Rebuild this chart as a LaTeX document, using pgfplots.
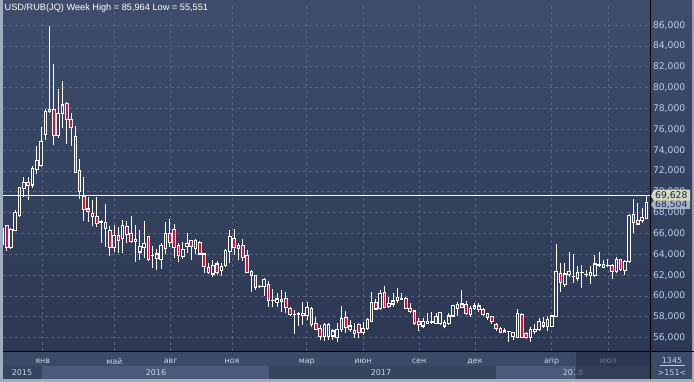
\documentclass[border=0pt]{standalone}
\usepackage{pgfplots}
\pgfplotsset{compat=1.18}
\usepackage{pgfplotstable}
\usepackage{fontspec}
\setmainfont{DejaVu Sans}
\newfontfamily\lib{Liberation Sans}

\definecolor{bgtop}{RGB}{63,77,107}
\definecolor{bgbot}{RGB}{44,56,83}
\definecolor{gridc}{RGB}{86,100,130}
\definecolor{candred}{RGB}{222,16,58}
\definecolor{hollow}{RGB}{50,62,90}
\definecolor{ticktxt}{RGB}{188,208,238}
\definecolor{monthtxt}{RGB}{200,212,232}
\definecolor{framec}{RGB}{160,172,194}
\definecolor{striprow}{RGB}{60,74,103}
\definecolor{bandlight}{RGB}{76,90,121}
\definecolor{banddark}{RGB}{55,68,96}
\definecolor{boxdark}{RGB}{30,40,62}

\pgfplotstableread{
x O H L C
0 65.0 66.8 64.4 66.5
1 66.76 66.85 64.35 64.65
2 64.65 66.5 64.5 66.4
3 66.3 68.3 66.2 68.05
4 67.7 70.5 67.6 70.4
5 70.35 71.4 69.5 70.9
6 70.9 71.4 69.2 70.6
7 70.66 72.5 70.35 72.2
8 72.17 74.4 71.7 72.97
9 72.5 76.2 72.4 74.8
10 75.5 78.0 75.0 77.7
11 77.7 85.96 77.6 77.93
12 77.93 82.3 74.5 75.4
13 75.4 79.9 75.2 77.5
14 77.5 80.6 76.1 78.34
15 78.44 78.6 74.6 76.97
16 76.97 77.6 74.4 76.2
17 75.34 76.3 71.8 71.9
18 72.07 73.2 69.35 70.0
19 69.55 71.4 67.2 68.33
20 68.36 69.55 67.15 68.1
21 67.95 69.2 66.7 67.6
22 67.6 69.55 66.6 67.0
23 67.15 67.3 65.1 67.1
24 67.08 68.8 64.75 66.47
25 66.25 66.7 63.85 64.65
26 64.62 66.8 64.2 65.84
27 65.77 66.66 64.17 65.32
28 65.5 67.3 64.17 66.8
29 66.66 67.24 65.07 65.93
30 66.03 67.7 65.07 65.26
31 65.22 66.8 63.3 65.45
32 64.23 66.3 63.5 64.8
33 64.68 67.24 63.7 65.07
34 65.7 65.8 63.4 63.5
35 63.85 64.8 62.7 63.87
36 64.04 64.5 62.5 63.63
37 63.53 65.07 62.6 64.81
38 64.55 67.1 64.0 66.0
39 66.0 67.4 64.7 65.13
40 66.4 66.9 63.7 64.68
41 64.9 65.07 63.3 63.85
42 63.82 65.22 63.6 64.5
43 64.75 66.1 64.1 65.07
44 65.29 65.4 63.47 64.75
45 64.59 65.45 64.04 65.29
46 65.13 65.29 63.95 64.04
47 64.04 64.17 62.19 62.82
48 62.76 63.15 62.12 62.3
49 62.12 63.47 61.8 62.9
50 63.08 63.37 62.06 62.25
51 62.44 63.15 61.93 62.82
52 62.9 64.5 62.8 64.4
53 64.27 66.34 63.15 65.72
54 65.55 66.44 63.95 64.68
55 64.55 65.07 63.47 64.81
56 64.9 65.47 63.4 63.7
57 63.85 64.43 62.19 62.3
58 62.4 62.5 60.42 61.96
59 61.96 62.03 60.6 60.85
60 60.9 61.07 60.75 60.92
61 60.9 61.71 60.0 61.55
62 61.14 61.4 59.0 59.56
63 59.6 60.65 59.0 59.56
64 59.4 60.27 59.0 59.72
65 59.69 60.6 58.5 59.44
66 59.79 60.4 58.35 58.93
67 58.83 58.98 58.1 58.19
68 58.2 58.67 56.37 58.19
69 58.27 58.5 57.13 58.29
70 58.35 59.47 57.23 58.1
71 58.1 59.47 57.7 58.93
72 58.83 58.98 57.0 57.23
73 57.33 58.0 56.74 56.82
74 56.91 57.23 55.8 56.1
75 56.1 57.4 55.72 57.3
76 56.1 57.45 55.79 57.3
77 56.17 56.82 55.79 56.65
78 56.05 57.4 55.55 56.82
79 56.75 59.05 56.59 57.87
80 57.97 58.57 56.49 57.0
81 56.82 57.71 56.59 57.13
82 56.72 57.45 55.95 56.43
83 57.23 57.45 55.95 56.49
84 56.49 57.55 56.27 56.91
85 56.91 57.87 56.75 57.71
86 57.55 60.37 57.49 59.41
87 59.41 59.7 58.67 58.76
88 58.83 60.58 58.67 60.27
89 60.37 60.97 58.83 58.93
90 58.98 59.95 58.83 59.31
91 59.24 60.27 58.98 59.53
92 59.56 60.75 59.31 59.89
93 59.69 60.27 59.63 59.79
94 59.79 59.95 58.73 58.83
95 58.83 59.31 58.41 58.5
96 58.57 58.67 57.23 57.33
97 57.58 57.87 56.68 57.29
98 57.13 57.87 56.91 57.52
99 57.58 58.41 57.33 57.39
100 57.5 58.5 57.33 57.52
101 57.39 58.35 57.29 58.03
102 57.39 58.5 57.23 58.45
103 57.13 57.71 56.91 57.49
104 57.39 58.35 57.23 58.09
105 58.09 59.15 57.97 59.08
106 58.83 59.47 58.09 59.21
107 59.24 60.58 58.83 58.89
108 59.15 59.56 58.19 58.29
109 58.19 59.05 57.97 58.83
110 58.83 59.37 58.67 59.05
111 59.05 59.31 58.5 58.73
112 58.73 58.89 58.09 58.19
113 58.29 58.41 57.71 57.97
114 58.03 58.09 57.33 57.52
115 57.23 57.39 56.68 56.91
116 56.91 57.07 56.43 56.49
117 56.49 56.91 56.43 56.65
118 56.57 56.68 55.6 56.59
119 56.1 56.59 55.79 56.49
120 56.05 58.73 55.95 58.29
121 58.19 58.41 55.95 56.05
122 56.37 56.6 55.9 56.05
123 56.05 57.07 55.6 56.75
124 56.56 57.33 56.37 56.75
125 56.82 57.87 56.68 57.52
126 57.45 57.97 56.91 57.13
127 57.07 58.09 56.68 57.71
128 57.07 58.19 57.0 58.09
129 58.03 65.0 57.97 62.4
130 62.19 63.21 60.42 61.29
131 61.14 63.15 60.9 62.12
132 62.03 64.27 61.87 62.4
133 61.9 64.04 61.29 61.87
134 61.71 62.9 61.48 62.25
135 62.24 62.99 60.81 62.26
136 62.08 62.5 61.87 62.1
137 61.93 62.9 61.14 62.28
138 61.93 63.95 61.87 63.08
139 62.98 64.27 62.82 63.0
140 62.99 63.47 62.67 62.76
141 62.91 63.53 62.76 62.93
142 62.92 63.05 61.61 62.34
143 62.34 63.79 62.19 63.47
144 63.47 63.56 62.44 62.57
145 62.5 63.47 62.03 63.3
146 63.3 67.85 63.21 67.69
147 67.79 69.3 66.03 67.05
148 67.21 68.96 66.83 66.92
149 67.3 68.43 67.05 67.53
150 67.47 69.63 67.4 68.96
}\candles

\begin{document}
\begin{tikzpicture}[x=1pt,y=1pt]
\path[use as bounding box] (0,0) rectangle (694,382);
\fill[framec] (0,0) rectangle (694,382);
\shade[top color=bgtop,bottom color=bgbot] (3,31) rectangle (692,382);
% date strip
\fill[striprow] (3,3) rectangle (692,30);
\fill[banddark] (3,3) rectangle (42,16);
\fill[bandlight] (42,3) rectangle (269,16);
\fill[banddark] (269,3) rectangle (496,16);
\fill[bandlight] (496,3) rectangle (650,16);
\fill[striprow] (650,3) rectangle (692,30);
\draw[black,line width=1pt] (3,30.5) -- (694,30.5);
\draw[black,line width=1pt] (650.5,3) -- (650.5,382);
% year labels
\foreach \xx/\yy in {22/2015,156/2016,381/2017,573/2018}
  \node[text=monthtxt,font=\fontsize{8}{9}\selectfont,anchor=center] at (\xx,9.7) {\yy};
\begin{axis}[
  at={(3pt,31pt)}, anchor=south west, scale only axis,
  width=647pt, height=348pt,
  xmin=0.138, xmax=150.85, ymin=54.73, ymax=88.13,
  axis line style={draw=none}, major tick length=0pt,
  grid=major, grid style={gridc, dash pattern=on 3pt off 3pt, line width=1pt},
  ytick={56,58,...,86}, yticklabel pos=right,
  yticklabel style={font=\fontsize{9.2}{10}\selectfont, text=ticktxt, anchor=west, xshift=-0.5pt,
    /pgf/number format/.cd, fixed, fixed zerofill, precision=3, use comma, 1000 sep={}, assume math mode=true},
  xtick={9.39,26.07,39.2,53.5,70.9,84.0,97.05,110.1,127.95,141.1},
  xticklabels={янв,май,авг,ноя,мар,июн,сен,дек,апр,июл},
  xticklabel style={font=\fontsize{8}{9}\selectfont, text=monthtxt, anchor=center, yshift=-10.7pt},
]
% wicks
\addplot[forget plot, draw=none, mark=none,
  error bars/.cd, y dir=plus, y explicit, error mark=none,
  error bar style={draw=white, line width=1pt, solid}]
  table[x=x, y=L, y error plus expr={\thisrow{H}-\thisrow{L}}] {\candles};
% body outline
\addplot[forget plot, draw=none, mark=none,
  error bars/.cd, y dir=plus, y explicit, error mark=none,
  error bar style={draw=white, line width=3.6pt, solid}]
  table[x=x, y expr={min(\thisrow{O},\thisrow{C})-0.05}, y error plus expr={abs(\thisrow{O}-\thisrow{C})+0.1}] {\candles};
% down bodies (red)
\addplot[forget plot, draw=none, mark=none,
  restrict expr to domain={\thisrow{O}-\thisrow{C}}{0.15:100}, unbounded coords=discard,
  error bars/.cd, y dir=plus, y explicit, error mark=none,
  error bar style={draw=candred, line width=1.6pt, solid}]
  table[x=x, y expr={min(\thisrow{O},\thisrow{C})+0.05}, y error plus expr={abs(\thisrow{O}-\thisrow{C})-0.1}] {\candles};
% up bodies (hollow)
\addplot[forget plot, draw=none, mark=none,
  restrict expr to domain={\thisrow{C}-\thisrow{O}}{0.15:100}, unbounded coords=discard,
  error bars/.cd, y dir=plus, y explicit, error mark=none,
  error bar style={draw=hollow, line width=1.6pt, solid}]
  table[x=x, y expr={min(\thisrow{O},\thisrow{C})+0.05}, y error plus expr={abs(\thisrow{O}-\thisrow{C})-0.1}] {\candles};
\draw[white, line width=1pt] (axis cs:0.138,69.628) -- (axis cs:150.85,69.628);
\end{axis}
% dark overlay on date strip
\fill[boxdark, opacity=0.55] (575,3) rectangle (650,30);
\draw[black!70, line width=0.6pt] (575,3) -- (575,30);
% price boxes
\fill[fill={rgb,255:red,168;green,178;blue,198}] (651,177.5) -- (654,182) -- (690,182) -- (690,173) -- (654,173) -- cycle;
\node[anchor=west, text={rgb,255:red,30;green,40;blue,70}, font=\fontsize{9.2}{10}\selectfont, inner sep=0pt] at (655,177.5) {68,504};
\fill[fill={rgb,255:red,214;green,218;blue,192}] (651,186.2) -- (654,192.4) -- (690,192.4) -- (690,181.4) -- (654,181.4) -- cycle;
\node[anchor=west, text={rgb,255:red,20;green,30;blue,60}, font=\fontsize{9.2}{10}\selectfont, inner sep=0pt] at (655,186.4) {69,628};
% title
\node[anchor=west, text=white, font=\lib\fontsize{9.2}{10}\selectfont, inner sep=0pt] at (4.5,373.5) {USD/RUB(JQ) Week High = 85,964 Low = 55,551};
% bottom right counters
\node[text=ticktxt, font=\fontsize{8}{9}\selectfont, anchor=center] at (672,21.5) {1345};
\draw[ticktxt, line width=0.6pt] (660,16.5) -- (685,16.5);
\node[text=ticktxt, font=\fontsize{8}{9}\selectfont, anchor=center] at (672,9.5) {>151<};
\end{tikzpicture}
\end{document}
